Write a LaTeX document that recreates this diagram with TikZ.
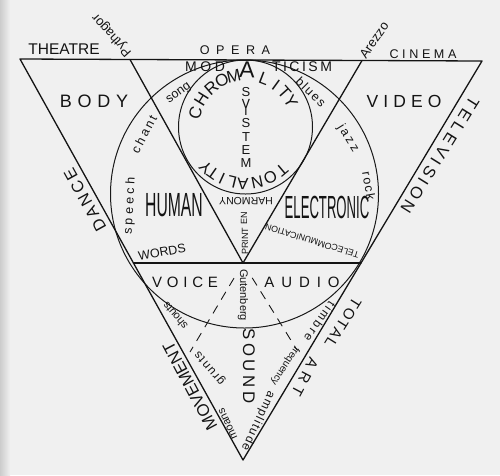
\documentclass[tikz,border=0pt]{standalone}
\usepackage{fontspec}
\setmainfont{Liberation Sans}
\usetikzlibrary{calc}
\makeatletter
\def\ls#1#2{\def\ls@g{#1}\ls@first#2\relax}
\def\ls@first#1{#1\ls@loop}
\def\ls@loop#1{\ifx#1\relax\else\hspace{\ls@g}#1\expandafter\ls@loop\fi}
\makeatother
\newcommand\fs[1]{\fontsize{#1}{#1}\selectfont}
\tikzset{
  edge/.style={line width=1.3pt, line cap=round, line join=round, draw=black!92},
  ring/.style={line width=1pt, draw=black!90},
  dashln/.style={line width=0.9pt, draw=black!90, dash pattern=on 9pt off 7pt},
  lab/.style={inner sep=0pt, outer sep=0pt, text=black!92},
}
\begin{document}
\begin{tikzpicture}[x=1pt,y=-1pt]
\useasboundingbox (0,0) rectangle (500,475);
\fill[black!6] (0,0) rectangle (500,475);
\shade[left color=black!20, right color=black!6] (0,0) rectangle (10,475);
% geometry
\coordinate (A) at (20,59);
\coordinate (B) at (482,61);
\coordinate (C) at (243,460);
\coordinate (P) at (130,59.5);
\coordinate (Q) at (362,60.5);
\coordinate (R) at (243,263);
\coordinate (L) at (133.4,263);
\coordinate (M) at (361,263);
\coordinate (O1) at (244.5,194);
\coordinate (O2) at (245.5,127);
\coordinate (DL) at (190,352);
\coordinate (DR) at (297,350);
% circles
\draw[ring] (O1) circle[radius=134];
\draw[ring] (O2) circle[radius=67];
% triangles
\draw[edge] (A) -- (B) -- (C) -- cycle;
\draw[edge] (P) -- (R) -- (Q);
\draw[edge] (L) -- (M);
% dashed rays
\draw[dashln] ($(R)!0.17!(DL)$) -- (DL);
\draw[dashln] ($(R)!0.17!(DR)$) -- (DR);
% top labels
\node[lab] (theatre) at (64,49) {\fs{15.5}THEATRE};
\node[lab] (opera) at (235,50) {\fs{12.6}\ls{6.5pt}{OPERA}};
\node[lab] (cinema) at (423,54) {\fs{12.6}\ls{3.6pt}{CINEMA}};
\node[lab, rotate=132] (pyth) at (112,35) {\fs{13}Pythagor};
\node[lab, rotate=55] (arezzo) at (374,40) {\fs{13}Arezzo};
\node[lab] (body) at (94,101) {\fs{18}\ls{5.7pt}{BODY}};
\node[lab] (video) at (404,101) {\fs{17.5}\ls{5.1pt}{VIDEO}};
\node[lab] (mod) at (205,67) {\fs{14}\ls{3.6pt}{MOD}};
\node[lab] (ticism) at (302,67) {\fs{14}\ls{2.5pt}{TICISM}};
% chroma / lity around small circle
\foreach \ch/\a [count=\i] in {C/164,H/148,R/131,O/117,M/103,L/69,I/54,T/41.5,Y/29.6}
  \path (O2) ++(-\a:52) node[lab, rotate=\a-90, font={\fs{17}}] (chr\i) {\ch};
\path (O2) ++(-88.5:57) node[lab, rotate=-1.5, font={\fs{23}}] (bigA) {A};
% tonality
\foreach \ch/\a [count=\i] in {T/-50,O/-64,N/-78,A/-92.6,L/-103.8,I/-114.7,T/-125,Y/-134.6}
  \path (O2) ++(-\a:56.5) node[lab, rotate=\a-90, font={\fs{16.5}}] (ton\i) {\ch};
% system
\node[lab] (sys1) at (246,92) {\fs{13}S};
\node[lab] (sys2) at (246,107) {\fs{13}\scalebox{1}[1.8]{Y}};
\node[lab] (sys3) at (246,123) {\fs{13}S};
\node[lab] (sys4) at (246,137) {\fs{13}T};
\node[lab] (sys5) at (246,150) {\fs{13}E};
\node[lab] (sys6) at (246,163) {\fs{13}M};
\node[lab, rotate=180] (harmony) at (246,201) {\fs{10.5}HARMONY};
\node[lab, rotate=90] (en) at (244,218) {\fs{9}EN};
\node[lab, rotate=90] (print) at (245,241) {\fs{9}PRINT};
% big words
\node[lab] (human) at (174,205) {\fs{33.5}\scalebox{0.47}[1]{HUMAN}};
\node[lab] (electronic) at (327,207) {\fs{32}\scalebox{0.41}[1]{ELECTRONIC}};
% small words in upper part
\node[lab, rotate=35] (song) at (179,94) {\fs{12.5}song};
\node[lab, rotate=62] (chant) at (144,134) {\fs{12.5}\ls{2.5pt}{chant}};
\node[lab, rotate=87] (speech) at (130,206) {\fs{12.5}\ls{3.4pt}{speech}};
\node[lab, rotate=10] (words) at (162,252) {\fs{12.5}WORDS};
\node[lab, rotate=-45] (blues) at (311,92) {\fs{12.5}\ls{1.7pt}{blues}};
\node[lab, rotate=-58] (jazz) at (348,138) {\fs{12.5}\ls{2.5pt}{jazz}};
\node[lab, rotate=-80] (rock) at (369,186) {\fs{12.5}\ls{1.5pt}{rock}};
\node[lab, rotate=163] (tele) at (312,241) {\fs{8.8}TELECOMMUNICATION};
% lower part
\node[lab] (voice) at (185,282) {\fs{15}\ls{4.8pt}{VOICE}};
\node[lab] (audio) at (302,282) {\fs{15}\ls{6.9pt}{AUDIO}};
\node[lab, rotate=-90] (guten) at (243,295) {\fs{11}Gutenberg};
\node[lab, rotate=-90] (sound) at (249,366) {\fs{16.8}\ls{3.6pt}{SOUND}};
\node[lab, rotate=130] (shouts) at (175,316) {\fs{11}shouts};
\node[lab, rotate=130] (grunts) at (210,368) {\fs{12}\ls{1.5pt}{grunts}};
\node[lab, rotate=115] (moans) at (228,424) {\fs{11}moans};
\node[lab, rotate=118] (movement) at (190,386) {\fs{16.8}MOVEMENT};
\node[lab, rotate=-125] (timbre) at (320,322) {\fs{12}\ls{2.4pt}{timbre}};
\node[lab, rotate=-123] (freq) at (285,366) {\fs{10}frequency};
\node[lab, rotate=-115] (ampl) at (258,421) {\fs{12}\ls{1.5pt}{amplitude}};
\node[lab, rotate=-122] (total) at (343,323) {\fs{15}\ls{1.75pt}{TOTAL}};
\node[lab, rotate=-118] (art) at (305,377) {\fs{15}\ls{5pt}{ART}};
% side labels
\node[lab, rotate=-122] (telev) at (440,155) {\fs{16.5}\ls{4pt}{TELEVISION}};
\node[lab, rotate=119] (dance) at (85,200) {\fs{16.5}\ls{3pt}{DANCE}};
\end{tikzpicture}
\end{document}
